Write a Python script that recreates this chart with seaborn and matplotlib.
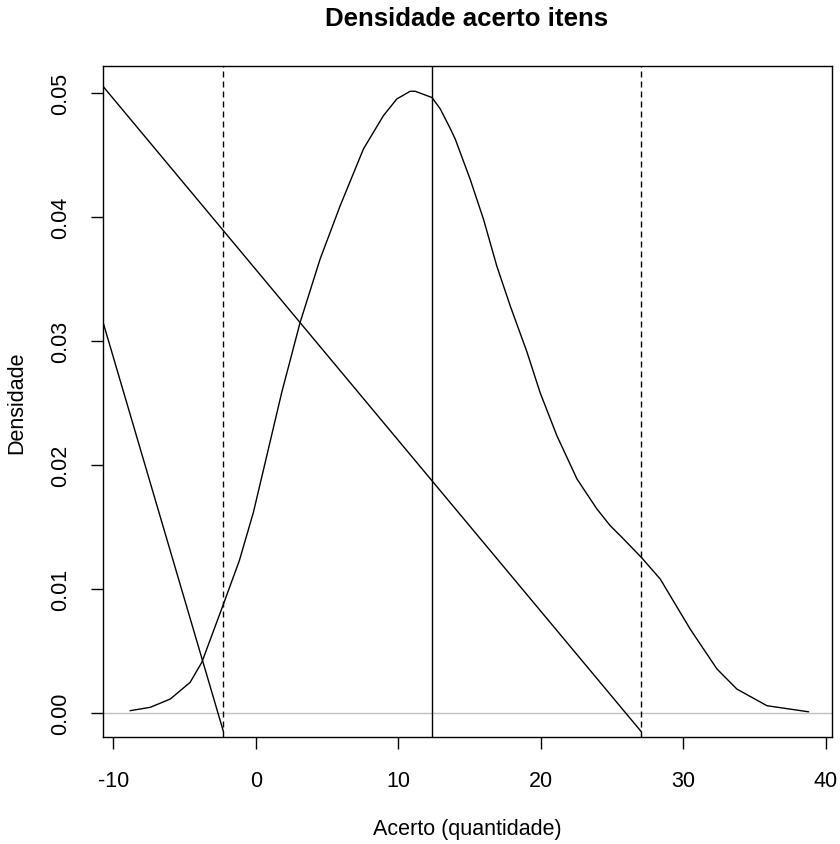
import matplotlib
matplotlib.use("Agg")
import matplotlib.pyplot as plt
import seaborn as sns
import pandas as pd

# Density curve
curve_x = [-8.82, -7.41, -6.0, -4.61, -3.79, -2.27, -1.15, -0.17, 0.77, 1.82,
           3.11, 4.51, 5.92, 7.55, 8.95, 9.89, 10.83, 11.18, 12.35, 12.93, 13.64,
           13.99, 15.04, 15.97, 16.91, 17.85, 19.02, 19.95, 21.12, 22.53, 23.93,
           24.86, 25.68, 27.04, 28.37, 30.47, 32.35, 33.75, 35.86, 38.78]
curve_y = [0.00019, 0.00046, 0.00113, 0.00247, 0.00408, 0.00878, 0.0123, 0.01617,
           0.02073, 0.02584, 0.03148, 0.03658, 0.04088, 0.04545, 0.04813, 0.04948,
           0.0501, 0.0501, 0.0496, 0.0487, 0.0471, 0.04625, 0.0430, 0.0398, 0.0360,
           0.0328, 0.0291, 0.0258, 0.02235, 0.01886, 0.01644, 0.0151, 0.01416,
           0.01255, 0.0108, 0.00677, 0.00355, 0.00193, 0.00059, 0.0001]

mean_value = 12.37
sd_lines = [-2.27, 27.04]

# diagonal segments (start/end)
seg1_x = [-10.72, 27.04]
seg1_y = [0.0505, -0.0015]
seg2_x = [-10.72, -2.27]
seg2_y = [0.0315, -0.0015]

xticks = [-10, 0, 10, 20, 30, 40]
yticks = [0.00, 0.01, 0.02, 0.03, 0.04, 0.05]

sns.set_style("white")
plt.rcParams['font.family'] = ['Liberation Sans', 'DejaVu Sans']
plt.rcParams['text.color'] = 'black'
plt.rcParams['axes.labelcolor'] = 'black'

fig = plt.figure(figsize=(8.4, 8.45), dpi=100)
ax = fig.add_axes([103/840, 1-738/845, (831.7-103)/840, (738-66.7)/845])

df = pd.DataFrame({"x": curve_x, "y": curve_y})
sns.lineplot(data=df, x="x", y="y", ax=ax, color="black", linewidth=1.0, sort=False)

ax.axhline(0, color="#bebebe", linewidth=1.0, zorder=1)
ax.axvline(mean_value, color="black", linewidth=1.0)
for v in sd_lines:
    ax.axvline(v, color="black", linewidth=1.0, linestyle=(0, (4.3, 2.9)))

sns.lineplot(x=seg1_x, y=seg1_y, ax=ax, color="black", linewidth=1.0)
sns.lineplot(x=seg2_x, y=seg2_y, ax=ax, color="black", linewidth=1.0)

ax.set_xlim(-10.72, 40.4)
ax.set_ylim(-0.00193, 0.05216)
ax.set_xticks(xticks)
ax.set_xticklabels([str(t) for t in xticks])
ax.set_yticks(yticks)
ax.set_yticklabels([f"{t:.2f}" for t in yticks], rotation=90, va="center")

ax.tick_params(axis="both", direction="out", length=8.6, width=1.0, color="black",
               labelsize=15.5, labelcolor="black", left=True, bottom=True)
ax.tick_params(axis="x", pad=15)
ax.tick_params(axis="y", pad=14)

for s in ax.spines.values():
    s.set_visible(True)
    s.set_color("black")
    s.set_linewidth(1.0)

ax.set_xlabel("Acerto (quantidade)", fontsize=15.5, color="black")
ax.set_ylabel("Densidade", fontsize=15.5, color="black")
ax.xaxis.set_label_coords(0.5, (738-830)/671.3)
ax.xaxis.label.set_va("center")
ax.yaxis.set_label_coords((17-103)/728.7, 0.5)
ax.yaxis.label.set_va("center")

fig.text(467/840, 1-19/845, "Densidade acerto itens", ha="center", va="center",
         fontsize=18.6, fontweight="bold", color="black")

fig.savefig("out.png", dpi=100, facecolor="white")
